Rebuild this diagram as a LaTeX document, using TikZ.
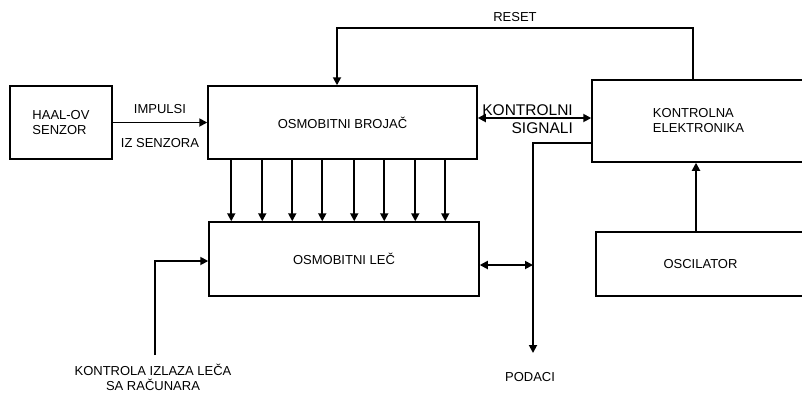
\documentclass[tikz,border=0pt]{standalone}
\usepackage{fontspec}
\setmainfont{Liberation Sans}
\usetikzlibrary{arrows.meta}

\begin{document}
\begin{tikzpicture}[
    x=1pt, y=-1pt,
    box/.style={draw, line width=1.5pt, inner sep=0pt, font=\fontsize{13}{15}\selectfont},
    sig/.style={line width=1.8pt, -{Triangle[length=8pt,width=8pt]}},
    sigboth/.style={line width=1.8pt, {Triangle[length=8pt,width=8pt]}-{Triangle[length=8pt,width=8pt]}},
    lbl/.style={inner sep=0pt, font=\fontsize{13}{15}\selectfont}
]
    \useasboundingbox (0,0) rectangle (802,392);

    % Blocks
    \node[box, minimum width=102pt, minimum height=73pt, align=left] (senzor) at (61,122.5) {HAAL-OV\\SENZOR};
    \node[box, minimum width=269pt, minimum height=73pt] (brojac) at (342.5,122.5) {OSMOBITNI  BROJAČ};
    \node[box, minimum width=270pt, minimum height=74pt] (lec) at (344,259) {OSMOBITNI  LEČ};
    \node[box, minimum width=213pt, minimum height=82pt, align=left] (kontrolna) at (698.5,121) {KONTROLNA\\ELEKTRONIKA};
    \node[box, minimum width=209pt, minimum height=64pt] (oscilator) at (700.5,264) {OSCILATOR};

    % Helper points
    \coordinate (resetL) at (337,28);
    \coordinate (resetR) at (693,28);
    \coordinate (ctl) at (0,118);
    \coordinate (bus) at (533,143);
    \coordinate (busout) at (533,265);
    \coordinate (busend) at (533,353);
    \coordinate (kin) at (155,355);
    \coordinate (kturn) at (155,261);
    \coordinate (oscx) at (696,0);

    % Sensor impulses
    \draw[sig] (senzor.east) -- node[lbl, above=8pt] (impulsi) {IMPULSI}
        node[lbl, below=15pt] (izsenzora) {IZ SENZORA} (brojac.west);

    % Reset loop
    \draw[sig] (resetR |- kontrolna.north) -- (resetR)
        -- node[lbl, above=5pt] (reset) {RESET} (resetL) -- (resetL |- brojac.north);

    % Control signals
    \draw[sigboth] (brojac.east |- ctl) -- (kontrolna.west |- ctl);
    \node[inner sep=0pt, align=right, anchor=east, font=\fontsize{15.5}{18}\selectfont] (kontrolni) at (573,119) {KONTROLNI\\SIGNALI};

    % Eight bit bus
    \foreach \dx in {24,55,85,115,147,177,208,238} {
        \draw[sig] ([xshift=\dx pt]brojac.south west) -- ([xshift=\dx pt]brojac.south west |- lec.north);
    }

    % Data lines
    \draw[sig] (kontrolna.west |- bus) -- (bus) -- (busend);
    \draw[sigboth] (lec.east |- busout) -- (busout);
    \node[lbl] (podaci) at (530,377) {PODACI};

    % Latch output control
    \draw[sig] (kin) -- (kturn) -- (lec.west |- kturn);
    \node[lbl, align=center] (kontrola) at (153,377) {KONTROLA  IZLAZA  LEČA\\SA  RAČUNARA};

    % Oscillator
    \draw[sig] (oscilator.north -| oscx) -- (kontrolna.south -| oscx);
\end{tikzpicture}
\end{document}
